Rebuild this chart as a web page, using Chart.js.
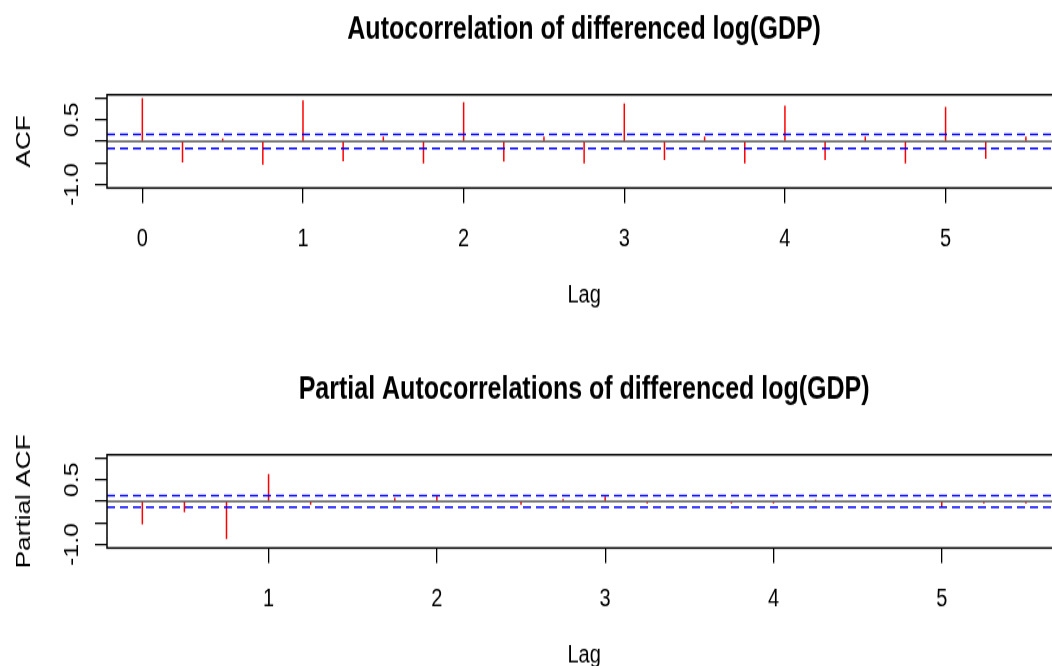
<!DOCTYPE html>
<html>
<head>
<meta charset="utf-8">
<title>Autocorrelation of differenced log(GDP)</title>
<script src="https://cdn.jsdelivr.net/npm/chart.js"></script>
<style>
  html, body { margin: 0; padding: 0; background: #fff; }
  #page { position: relative; width: 1052px; height: 666px; overflow: hidden; background: #fff; }
  /* the original figure is stretched vertically, so each panel is drawn flat and scaled */
  .panel { position: absolute; left: 0; width: 1062px; height: 288px; transform: scaleY(1.25); transform-origin: 0 0; }
  #panelTop { top: 0; }
  #panelBottom { top: 360px; }
</style>
</head>
<body>
<div id="page">
  <div class="panel" id="panelTop"><canvas id="acfChart"></canvas></div>
  <div class="panel" id="panelBottom"><canvas id="pacfChart"></canvas></div>
</div>
<script>
// ACF, lags in years (quarterly data)
const acfLags = [0, 0.25, 0.5, 0.75, 1, 1.25, 1.5, 1.75, 2, 2.25, 2.5, 2.75,
                 3, 3.25, 3.5, 3.75, 4, 4.25, 4.5, 4.75, 5, 5.25, 5.5];
const acfValues = [1.00, -0.49, 0.07, -0.54, 0.95, -0.46, 0.11, -0.51, 0.91, -0.47, 0.11, -0.51,
                   0.88, -0.43, 0.11, -0.51, 0.83, -0.43, 0.11, -0.51, 0.80, -0.40, 0.11];
const acfBound = 0.16;
const acfXRange = [-0.22, 5.72];
const acfXTicks = [0, 1, 2, 3, 4, 5];

// PACF
const pacfLags = [0.25, 0.5, 0.75, 1, 1.25, 1.5, 1.75, 2, 2.25, 2.5, 2.75,
                  3, 3.25, 3.5, 3.75, 4, 4.25, 4.5, 4.75, 5, 5.25, 5.5];
const pacfValues = [-0.53, -0.25, -0.87, 0.63, -0.08, -0.02, 0.08, 0.14, -0.02, -0.08, 0.05,
                    0.11, -0.05, -0.02, -0.05, -0.05, 0.04, -0.02, -0.02, -0.12, -0.05, -0.05];
const pacfBound = 0.135;
const pacfXRange = [0.04, 5.71];
const pacfXTicks = [1, 2, 3, 4, 5];

// shared y axis
const yRange = [-1.08, 1.08];
const yTickValues = [-1, -0.5, 0, 0.5, 1];
const yTickLabels = ['-1.0', '', '', '0.5', ''];

const FONT = '"Liberation Sans", Arial, Helvetica, sans-serif';
Chart.defaults.font.family = FONT;
Chart.defaults.color = '#000';
Chart.defaults.animation = false;

// box round the plot region and the bold main title, R style
const rFrame = {
    id: 'rFrame',
    afterDraw(chart, args, opts) {
        const a = chart.chartArea;
        const ctx = chart.ctx;
        ctx.save();
        ctx.strokeStyle = '#000';
        ctx.lineWidth = 1.5;
        ctx.strokeRect(a.left, a.top, a.right - a.left, a.bottom - a.top);
        ctx.fillStyle = '#000';
        ctx.font = 'bold 25px ' + FONT;
        ctx.textAlign = 'center';
        ctx.textBaseline = 'alphabetic';
        ctx.fillText(opts.text, (a.left + a.right) / 2, 31);
        ctx.restore();
    }
};

function hLine(xRange, y, color, dash) {
    return {
        type: 'line',
        data: [{ x: xRange[0], y: y }, { x: xRange[1], y: y }],
        borderColor: color,
        borderWidth: dash ? 1.5 : 1,
        borderDash: dash || [],
        pointRadius: 0
    };
}

function makeChart(canvasId, title, yTitle, lags, values, bound, xRange, xTicks) {
    const ctx = document.getElementById(canvasId).getContext('2d');
    return new Chart(ctx, {
        type: 'bar',
        data: {
            datasets: [
                hLine(xRange, bound, '#0000ff', [8, 5]),
                hLine(xRange, -bound, '#0000ff', [8, 5]),
                hLine(xRange, 0, '#000000'),
                {
                    label: yTitle,
                    data: lags.map((lag, i) => ({ x: lag, y: values[i] })),
                    backgroundColor: '#ff0000',
                    barThickness: 1.5,
                    inflateAmount: 0
                }
            ]
        },
        options: {
            responsive: true,
            maintainAspectRatio: false,
            layout: { padding: { top: 75.8, left: 0, right: 0, bottom: 0 } },
            plugins: {
                legend: { display: false },
                tooltip: { enabled: false },
                rFrame: { text: title }
            },
            scales: {
                x: {
                    type: 'linear',
                    min: xRange[0],
                    max: xRange[1],
                    offset: false,
                    afterBuildTicks: (s) => { s.ticks = xTicks.map(v => ({ value: v })); },
                    afterFit: (s) => { s.height = 137.6; },
                    ticks: {
                        autoSkip: false,
                        maxRotation: 0,
                        padding: 17,
                        font: { size: 20 },
                        callback: (v) => String(v)
                    },
                    grid: { drawOnChartArea: false, offset: false, tickLength: 12, color: '#000', lineWidth: 1.3 },
                    border: { display: false },
                    title: { display: true, text: 'Lag', font: { size: 20 }, padding: { top: 0, bottom: 40 } }
                },
                y: {
                    min: yRange[0],
                    max: yRange[1],
                    afterBuildTicks: (s) => { s.ticks = yTickValues.map(v => ({ value: v })); },
                    afterFit: (s) => { s.width = 107; },
                    ticks: {
                        autoSkip: false,
                        minRotation: 90,
                        maxRotation: 90,
                        crossAlign: 'center',
                        padding: 5,
                        font: { size: 20 },
                        callback: (v, i) => yTickLabels[i]
                    },
                    grid: { drawOnChartArea: false, tickLength: 12, color: '#000', lineWidth: 1.3 },
                    border: { display: false },
                    title: { display: true, text: yTitle, font: { size: 21 }, padding: { top: 12, bottom: 0 } }
                }
            }
        },
        plugins: [rFrame]
    });
}

makeChart('acfChart', 'Autocorrelation of differenced log(GDP)', 'ACF',
          acfLags, acfValues, acfBound, acfXRange, acfXTicks);
makeChart('pacfChart', 'Partial Autocorrelations of differenced log(GDP)', 'Partial ACF',
          pacfLags, pacfValues, pacfBound, pacfXRange, pacfXTicks);
</script>
</body>
</html>
